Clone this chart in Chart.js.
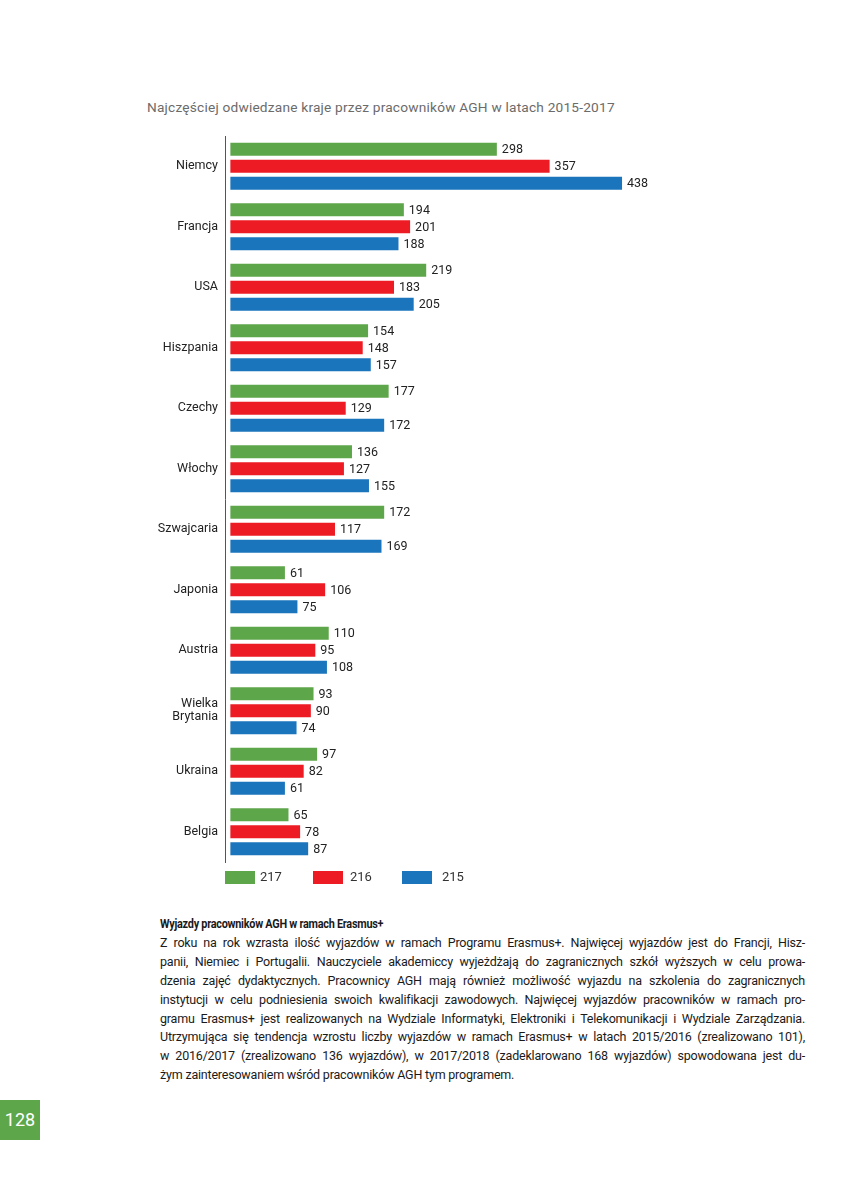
<!DOCTYPE html>
<html>
<head>
<meta charset="utf-8">
<script src="https://cdn.jsdelivr.net/npm/chart.js@4/dist/chart.umd.min.js"></script>
<style>
html,body{margin:0;padding:0;background:#fff;}
body{width:848px;height:1200px;position:relative;overflow:hidden;font-family:Roboto,"DejaVu Sans",sans-serif;}
#title{position:absolute;left:147px;top:99px;font-size:13.7px;color:#6b6b6b;letter-spacing:0.2px;white-space:nowrap;}
#c{position:absolute;left:0;top:0;}
#legend{position:absolute;left:0;top:0;}
.lg-box{position:absolute;width:30px;height:13px;top:871px;}
.lg-txt{position:absolute;top:869px;font-size:13px;color:#333;}
#text{position:absolute;left:160px;top:915px;width:645px;font-family:Roboto,sans-serif;font-size:12.5px;color:#1a1a1a;line-height:18.9px;}
#text .h{font-weight:bold;letter-spacing:-0.3px;white-space:nowrap;transform:scaleX(0.87);transform-origin:0 50%;}
#text .l,#text .last{white-space:nowrap;}
#page{position:absolute;left:0;top:1100px;width:40px;height:40px;background:#5ea64a;color:#fff;font-size:18px;line-height:40px;text-align:center;}
</style>
</head>
<body>
<div id="title">Najczęściej odwiedzane kraje przez pracowników AGH w latach 2015-2017</div>
<canvas id="c" width="848" height="880" style="width:848px;height:880px;"></canvas>
<div id="legend"></div>
<div id="text">
<div class="h">Wyjazdy pracowników AGH w ramach Erasmus+</div>
<div class="l"><span>Z roku na rok wzrasta ilość wyjazdów w ramach Programu Erasmus+. Najwięcej wyjazdów jest do Francji, Hisz-</span></div>
<div class="l"><span>panii, Niemiec i Portugalii. Nauczyciele akademiccy wyjeżdżają do zagranicznych szkół wyższych w celu prowa-</span></div>
<div class="l"><span>dzenia zajęć dydaktycznych. Pracownicy AGH mają również możliwość wyjazdu na szkolenia do zagranicznych</span></div>
<div class="l"><span>instytucji w celu podniesienia swoich kwalifikacji zawodowych. Najwięcej wyjazdów pracowników w ramach pro-</span></div>
<div class="l"><span>gramu Erasmus+ jest realizowanych na Wydziale Informatyki, Elektroniki i Telekomunikacji i Wydziale Zarządzania.</span></div>
<div class="l"><span>Utrzymująca się tendencja wzrostu liczby wyjazdów w ramach Erasmus+ w latach 2015/2016 (zrealizowano 101),</span></div>
<div class="l"><span>w 2016/2017 (zrealizowano 136 wyjazdów), w 2017/2018 (zadeklarowano 168 wyjazdów) spowodowana jest du-</span></div>
<div class="last"><span>żym zainteresowaniem wśród pracowników AGH tym programem.</span></div>
</div>
<div id="page">128</div>
<script>
const categories = ['Niemcy','Francja','USA','Hiszpania','Czechy','Włochy','Szwajcaria','Japonia','Austria',['Wielka','Brytania'],'Ukraina','Belgia'];
const seriesNames = ['217','216','215'];
const values217 = [298,194,219,154,177,136,172,61,110,93,97,65];
const values216 = [357,201,183,148,129,127,117,106,95,90,82,78];
const values215 = [438,188,205,157,172,155,169,75,108,74,61,87];
const colors = ['#5ea64a','#ed1c24','#1b75bc'];

const seriesValues = [values217, values216, values215];

const valueLabels = {
  id:'valueLabels',
  afterDatasetsDraw(chart){
    const ctx = chart.ctx;
    ctx.save();
    ctx.font = '12.5px Roboto, "DejaVu Sans", sans-serif';
    ctx.fillStyle = '#222';
    ctx.textBaseline = 'middle';
    ctx.textAlign = 'left';
    chart.data.datasets.forEach((ds,i)=>{
      chart.getDatasetMeta(i).data.forEach((bar,j)=>{
        ctx.fillText(String(ds.data[j]), bar.x + 5, bar.y + 1);
      });
    });
    ctx.restore();
  }
};

new Chart(document.getElementById('c'), {
  type:'bar',
  data:{
    labels: categories,
    datasets: seriesNames.map((n,i)=>({
      label:n,
      data:seriesValues[i],
      backgroundColor:colors[i],
      borderWidth:0,
      categoryPercentage:0.843,
      barPercentage:0.765
    }))
  },
  options:{
    indexAxis:'y',
    responsive:false,
    animation:false,
    layout:{padding:{top:136,bottom:18,left:0,right:48}},
    plugins:{legend:{display:false},tooltip:{enabled:false}},
    scales:{
      x:{display:false,min:-6,max:637},
      y:{
        afterFit(scale){scale.width = 225;},
        grid:{display:false,drawTicks:false},
        border:{display:true,color:'#555',width:1},
        ticks:{padding:7,color:'#222',font:{family:'Roboto, "DejaVu Sans", sans-serif',size:12.5,lineHeight:1.05}}
      }
    }
  },
  plugins:[valueLabels]
});

// legend
const lg = document.getElementById('legend');
const boxX = [225,313,402];
const txtX = [260,350,442];
seriesNames.forEach((n,i)=>{
  const b = document.createElement('div');
  b.className='lg-box'; b.style.left=boxX[i]+'px'; b.style.background=colors[i];
  lg.appendChild(b);
  const t = document.createElement('div');
  t.className='lg-txt'; t.style.left=txtX[i]+'px'; t.textContent=n;
  lg.appendChild(t);
});

// justify paragraph lines manually
const target = 645;
document.querySelectorAll('#text .l span, #text .last span').forEach(sp=>{
  const isLast = sp.parentElement.classList.contains('last');
  let ls = -0.2;
  sp.style.letterSpacing = ls+'px';
  while (sp.getBoundingClientRect().width > target - 8 && ls > -1.5) {
    ls -= 0.05; sp.style.letterSpacing = ls+'px';
  }
  if (!isLast) {
    const w = sp.getBoundingClientRect().width;
    const spaces = (sp.textContent.match(/ /g)||[]).length;
    if (spaces) sp.style.wordSpacing = ((target - w)/spaces)+'px';
  }
});
</script>
</body>
</html>
